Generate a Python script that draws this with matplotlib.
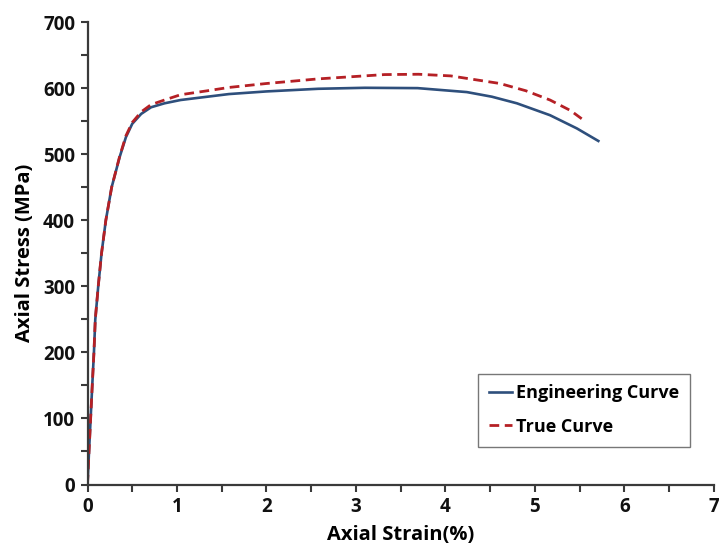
import matplotlib
matplotlib.use("Agg")
import matplotlib.pyplot as plt
from matplotlib.ticker import MultipleLocator

# values (strain in %, stress in MPa)
eng_strain = [0.0, 0.017, 0.035, 0.053, 0.072, 0.087, 0.12, 0.157, 0.205, 0.27,
              0.36, 0.43, 0.50, 0.60, 0.71, 0.86, 1.04, 1.34, 1.58, 2.0,
              2.58, 3.1, 3.69, 4.24, 4.52, 4.8, 5.17, 5.47, 5.71]
eng_stress = [0, 50, 100, 150, 200, 250, 300, 350, 400, 450,
              496, 526, 546, 561, 571, 577, 582, 587, 591, 595,
              599, 600.5, 600, 594, 587, 577, 559, 539, 520]

true_strain = [0.0, 0.017, 0.035, 0.053, 0.072, 0.087, 0.12, 0.157, 0.205, 0.27,
               0.36, 0.43, 0.50, 0.60, 0.71, 0.86, 1.04, 1.34, 1.58, 2.0,
               2.58, 3.32, 3.7, 4.06, 4.61, 4.9, 5.17, 5.4, 5.56]
true_stress = [0, 50, 100, 150, 200, 250, 300, 350, 400, 450,
               497, 528, 548, 564, 575, 582, 590, 596, 601, 607,
               614, 620.5, 621, 618.5, 607, 596, 582, 566, 550]

FONT = "Open Sans"

fig = plt.figure(figsize=(7.19, 5.46), dpi=100)
ax = fig.add_axes([0.1217, 0.1126, 0.871, 0.847])

ax.plot(eng_strain, eng_stress, color="#2E4F7C", lw=1.9, label="Engineering Curve")
ax.plot(true_strain, true_stress, color="#B52025", lw=2.0, ls=(0, (3.5, 2)),
        label="True Curve")

ax.set_xlim(0, 7)
ax.set_ylim(0, 700)
ax.xaxis.set_major_locator(MultipleLocator(1))
ax.xaxis.set_minor_locator(MultipleLocator(0.5))
ax.yaxis.set_major_locator(MultipleLocator(100))
ax.yaxis.set_minor_locator(MultipleLocator(50))

for s in ["top", "right"]:
    ax.spines[s].set_visible(False)
for s in ["left", "bottom"]:
    ax.spines[s].set_linewidth(1.6)
    ax.spines[s].set_color("#3a3a3a")

ax.tick_params(which="both", direction="out", length=5, width=1.5,
               color="#3a3a3a", pad=4)
for lbl in ax.get_xticklabels() + ax.get_yticklabels():
    lbl.set_fontfamily(FONT)
    lbl.set_fontweight("bold")
    lbl.set_fontsize(13.5)
    lbl.set_color("#111111")

ax.set_xlabel("Axial Strain(%)", fontfamily=FONT, fontweight="bold",
              fontsize=14.5, labelpad=6)
ax.set_ylabel("Axial Stress (MPa)", fontfamily=FONT, fontweight="bold",
              fontsize=14.5, labelpad=6)

leg = ax.legend(loc="lower right", bbox_to_anchor=(0.962, 0.082),
                prop={"family": FONT, "weight": "bold", "size": 13},
                frameon=True, fancybox=False, handlelength=1.3,
                handletextpad=0.2, borderpad=0.6, labelspacing=0.85,
                borderaxespad=0)
leg.get_frame().set_edgecolor("#555555")
leg.get_frame().set_linewidth(1.0)

fig.savefig("out.png", dpi=100)
